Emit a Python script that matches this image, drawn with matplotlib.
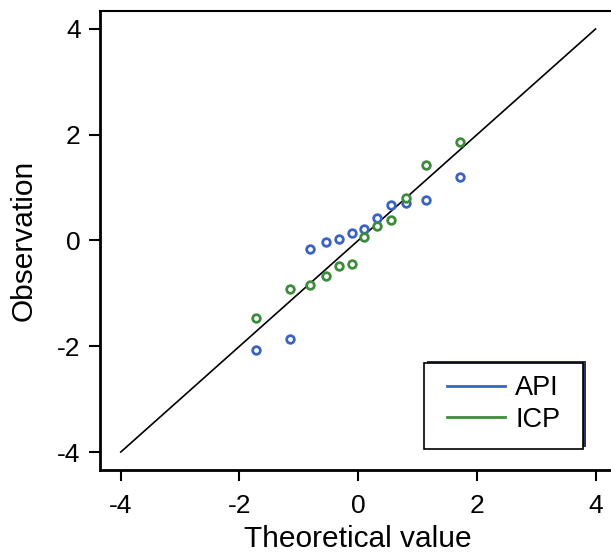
import matplotlib
matplotlib.use("Agg")
import matplotlib.pyplot as plt
import matplotlib.transforms as mtransforms
from matplotlib.lines import Line2D
from matplotlib.patches import Rectangle

# theoretical normal quantiles
theo = [-1.73, -1.15, -0.82, -0.55, -0.33, -0.11, 0.10, 0.31, 0.55, 0.81, 1.15, 1.72]

# observed values
api = [-2.08, -1.86, -0.16, -0.03, 0.02, 0.14, 0.21, 0.42, 0.67, 0.71, 0.77, 1.21]
icp = [-1.46, -0.92, -0.85, -0.68, -0.48, -0.44, 0.07, 0.28, 0.39, 0.80, 1.43, 1.86]

ref_line = [-4, 4]
ticks = [-4, -2, 0, 2, 4]

blue = "#3a64c0"
green = "#3d8b3d"

plt.rcParams["font.family"] = ["Liberation Sans", "DejaVu Sans"]

fig = plt.figure(figsize=(6.11, 5.56), dpi=100)
ax = fig.add_axes([0.1637, 0.1547, 0.845, 0.8255])

ax.plot(ref_line, ref_line, color="black", lw=1.2)
ax.plot(theo, api, "o", mfc="white", mec=blue, mew=2, ms=5.5, ls="none")
ax.plot(theo, icp, "o", mfc="white", mec=green, mew=2, ms=5.5, ls="none")

ax.set_xlim(-4.35, 4.35)
ax.set_ylim(-4.34, 4.34)
ax.set_xticks(ticks)
ax.set_yticks(ticks)
ax.set_xticklabels([str(t) for t in ticks])
ax.set_yticklabels([str(t) for t in ticks])
ax.tick_params(labelsize=19, length=8, width=1.5, direction="out", pad=6)
ax.tick_params(axis="x", pad=9)

for s in ["left", "bottom"]:
    ax.spines[s].set_linewidth(2)
ax.spines["top"].set_linewidth(1.5)
ax.spines["right"].set_visible(False)

ax.set_xlabel("Theoretical value", fontsize=21.5, labelpad=5)
ax.set_ylabel("Observation", fontsize=21.5, labelpad=14)

# legend box with a dark shadow offset up and to the right
box = (0.628, 0.046, 0.308, 0.187)
shadow_tr = mtransforms.offset_copy(ax.transAxes, fig=fig, x=3, y=2, units="dots")
ax.add_patch(Rectangle(box[:2], box[2], box[3], transform=shadow_tr,
                       facecolor="#2b3160", edgecolor="none", zorder=4))
ax.add_patch(Rectangle(box[:2], box[2], box[3], transform=ax.transAxes,
                       facecolor="white", edgecolor="black", lw=1.2, zorder=5))

handles = [Line2D([], [], color=blue, lw=2), Line2D([], [], color=green, lw=2)]
leg = ax.legend(handles, ["API", "ICP"], loc="center",
                bbox_to_anchor=(box[0] + box[2] / 2, box[1] + box[3] / 2 + 0.004),
                fontsize=19.5, frameon=False, handlelength=2.15,
                handletextpad=0.37, labelspacing=0.2, borderpad=0,
                borderaxespad=0)
leg.set_zorder(6)

fig.savefig("out.png", dpi=100)
